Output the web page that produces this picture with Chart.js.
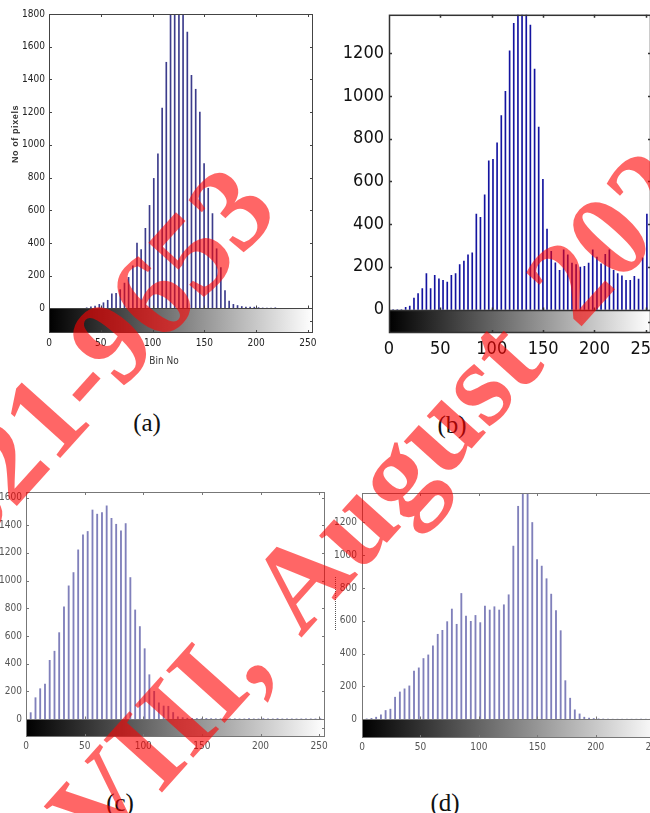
<!DOCTYPE html>
<html>
<head>
<meta charset="utf-8">
<script src="https://cdn.jsdelivr.net/npm/chart.js@4.4.1/dist/chart.umd.min.js"></script>
<style>
    html, body { margin: 0; padding: 0; background: #fff; }
    #page { position: relative; width: 650px; height: 813px; overflow: hidden; background: #fff; }
    #page canvas { position: absolute; }
    .cap { position: absolute; width: 60px; text-align: center; font: 25px "Liberation Serif", "Times New Roman", serif; color: #111; line-height: 26px; z-index: 2; }
    .lbl { position: absolute; text-align: center; color: #333; z-index: 2; white-space: nowrap; }
    .wm { position: absolute; transform-origin: 0 0; transform: rotate(-48deg); font: bold 120px "Liberation Serif", "Times New Roman", serif; color: rgba(255, 0, 0, 0.6); line-height: 1; white-space: nowrap; pointer-events: none; z-index: 5; }
</style>
</head>
<body>
<div id="page">
    <div class="lbl" style="left:-25px; top:129px; width:80px; font:bold 9px 'Liberation Sans', Arial, sans-serif; letter-spacing:0.6px; transform:rotate(-90deg);">No of pixels</div>
    <div class="lbl" style="left:139px; top:355px; width:50px; font:10px 'Liberation Sans Narrow', 'DejaVu Sans Condensed', sans-serif;">Bin No</div>
    <div style="position:absolute; left:335px; top:577px; height:53px; border-left:1px dotted #555;"></div>
    <div class="cap" style="left:117px; top:410px;">(a)</div>
    <div class="cap" style="left:422px; top:412px;">(b)</div>
    <div class="cap" style="left:90px; top:790px;">(c)</div>
    <div class="cap" style="left:415px; top:790px;">(d)</div>
    <div class="wm" style="left:-141px; top:532px;">2321-9653</div>
    <div class="wm" style="left:27px; top:793px; word-spacing:0.15em;">VIII, August 2020</div>
</div>
<script>
// bin centres of a 64-bin histogram on 0..255
const binCenters = [0, 4, 8.1, 12.1, 16.2, 20.2, 24.3, 28.3, 32.4, 36.4, 40.5, 44.5, 48.6, 52.6, 56.7, 60.7,
    64.8, 68.8, 72.9, 76.9, 81, 85, 89, 93.1, 97.1, 101.2, 105.2, 109.3, 113.3, 117.4, 121.4, 125.5,
    129.5, 133.6, 137.6, 141.7, 145.7, 149.8, 153.8, 157.9, 161.9, 166, 170, 174, 178.1, 182.1, 186.2, 190.2,
    194.3, 198.3, 202.4, 206.4, 210.5, 214.5, 218.6, 222.6, 226.7, 230.7, 234.8, 238.8, 242.9, 246.9, 251, 255];

const histA = [0, 0, 0, 0, 0, 0, 0, 0, 0, 4, 10, 15, 25, 35, 50, 90, 92, 115, 155, 190,
    260, 400, 360, 490, 630, 795, 945, 1225, 1505, 1950, 2150, 2200, 2050, 1690, 1425, 1340, 1200, 885, 735, 580,
    365, 250, 110, 45, 25, 18, 12, 8, 8, 8, 5, 3, 3, 2, 4, 0, 0, 0, 0, 0, 0, 0, 0, 0];
const histB = [0, 0, 0, 0, 10, 16, 54, 75, 98, 168, 98, 160, 144, 137, 129, 160, 168, 210, 227, 256,
    265, 447, 432, 537, 696, 703, 781, 908, 1022, 1211, 1340, 1480, 1550, 1500, 1332, 1126, 854, 610, 377, 273,
    219, 183, 280, 256, 217, 210, 199, 202, 217, 280, 245, 214, 258, 280, 183, 168, 158, 137, 137, 155, 143, 242, 447, 300];
const histC = [0, 46, 154, 219, 253, 424, 490, 624, 810, 962, 1058, 1222, 1330, 1355, 1510, 1480, 1492, 1540, 1450, 1407,
    1360, 1412, 1022, 788, 668, 508, 320, 200, 117, 94, 92, 47, 16, 10, 6, 5, 4, 3, 4, 3,
    2, 2, 1, 1, 2, 1, 1, 3, 1, 1, 3, 1, 1, 3, 1, 1, 1, 1, 1, 1, 1, 1, 3, 0];
const histD = [0, 2, 5, 12, 26, 53, 61, 134, 166, 185, 203, 294, 313, 370, 392, 447, 518, 542, 595, 672,
    579, 767, 629, 597, 633, 589, 690, 666, 686, 666, 698, 759, 1056, 1299, 1500, 1480, 1200, 974, 934, 857,
    763, 662, 540, 235, 128, 57, 32, 12, 6, 4, 2, 1, 1, 0, 0, 0, 0, 0, 0, 0, 0, 0, 0, 0];

const binTicks = [0, 50, 100, 150, 200, 250];
const yTicksA = [0, 200, 400, 600, 800, 1000, 1200, 1400, 1600, 1800];
const yTicksB = [0, 200, 400, 600, 800, 1000, 1200];
const yTicksC = [0, 200, 400, 600, 800, 1000, 1200, 1400, 1600];
const yTicksD = [0, 200, 400, 600, 800, 1000, 1200];

const narrow = "'Liberation Sans Narrow', 'DejaVu Sans Condensed', Arial, sans-serif";

// grey colour bar under zero, box frame and inward ticks like imhist
const matlabAxes = {
    id: 'matlabAxes',
    beforeDatasetsDraw(chart) {
        const {ctx, chartArea: a, scales: {x, y}} = chart;
        const y0 = Math.round(y.getPixelForValue(0));
        const g = ctx.createLinearGradient(x.getPixelForValue(0), 0, x.getPixelForValue(255), 0);
        g.addColorStop(0, '#000');
        g.addColorStop(1, '#fff');
        ctx.save();
        ctx.fillStyle = g;
        ctx.fillRect(a.left, y0, a.right - a.left, a.bottom - y0);
        ctx.restore();
    },
    afterDatasetsDraw(chart, args, opt) {
        const {ctx, chartArea: a, scales: {x, y}} = chart;
        const y0 = Math.round(y.getPixelForValue(0)) + 0.5;
        const t = opt.tick;
        ctx.save();
        ctx.strokeStyle = opt.color;
        ctx.lineWidth = opt.width;
        ctx.strokeRect(a.left + 0.5, a.top + 0.5, a.right - a.left - 1, a.bottom - a.top - 1);
        ctx.beginPath();
        ctx.moveTo(a.left, y0);
        ctx.lineTo(a.right, y0);
        x.ticks.forEach(function (tk) {
            let px = Math.round(x.getPixelForValue(tk.value)) + 0.5;
            if (px <= a.left + 1 || px >= a.right - 1) return;
            ctx.moveTo(px, a.top); ctx.lineTo(px, a.top + t);
            ctx.moveTo(px, y0); ctx.lineTo(px, y0 - t);
            ctx.moveTo(px, a.bottom); ctx.lineTo(px, a.bottom - t);
        });
        y.ticks.forEach(function (tk) {
            if (tk.value <= 0) return;
            let py = Math.round(y.getPixelForValue(tk.value)) + 0.5;
            ctx.moveTo(a.left, py); ctx.lineTo(a.left + t, py);
            ctx.moveTo(a.right, py); ctx.lineTo(a.right - t, py);
        });
        let pm = Math.round((y0 + a.bottom) / 2) + 0.5;
        ctx.moveTo(a.right, pm); ctx.lineTo(a.right - t, pm);
        ctx.stroke();
        ctx.restore();
    }
};

const panels = [
    {values: histA, yTicks: yTicksA, left: 49, top: 14, right: 313, bottom: 333, yMin: -150, yMax: 1800,
        bar: '#3c3c8c', barW: 1, frame: '#444', fw: 1, font: 10, tickColor: '#222', xPad: 4, yPad: 4},
    {values: histB, yTicks: yTicksB, left: 389, top: 13, right: 651, bottom: 333, yMin: -110, yMax: 1380,
        bar: '#1414a0', barW: 1, frame: '#333', fw: 1.5, font: 18, tickColor: '#111', xPad: 6, yPad: 5},
    {values: histC, yTicks: yTicksC, left: 26, top: 492, right: 325, bottom: 737, yMin: -130, yMax: 1640,
        bar: '#8080bb', barW: 1.2, frame: '#777', fw: 1, font: 10, tickColor: '#555', xPad: 3, yPad: 4},
    {values: histD, yTicks: yTicksD, left: 362, top: 493, right: 660, bottom: 738, yMin: -115, yMax: 1380,
        bar: '#8080bb', barW: 1.2, frame: '#777', fw: 1, font: 10, tickColor: '#555', xPad: 3, yPad: 5}
];

function drawPanel(p) {
    // padding must exceed half a tick label so that the plot box stays where it is put
    const yW = 50, xH = 30, padT = 14, padR = 18;
    const w = p.right - p.left + yW + padR;
    const h = p.bottom - p.top + padT + xH;
    const cv = document.createElement('canvas');
    cv.width = w;
    cv.height = h;
    cv.style.left = (p.left - yW) + 'px';
    cv.style.top = (p.top - padT) + 'px';
    cv.style.width = w + 'px';
    cv.style.height = h + 'px';
    document.getElementById('page').appendChild(cv);

    new Chart(cv, {
        type: 'bar',
        data: {
            datasets: [{
                data: binCenters.map(function (b, i) { return {x: b, y: p.values[i]}; }),
                backgroundColor: p.bar,
                borderWidth: 0,
                barThickness: p.barW
            }]
        },
        options: {
            responsive: false,
            animation: false,
            devicePixelRatio: 1,
            layout: {autoPadding: false, padding: {top: padT, right: padR, left: 0, bottom: 0}},
            plugins: {
                legend: {display: false},
                tooltip: {enabled: false},
                matlabAxes: {color: p.frame, width: p.fw, tick: 3}
            },
            scales: {
                x: {
                    type: 'linear',
                    offset: false,
                    min: 0,
                    max: 255,
                    grid: {display: false, drawTicks: false, offset: false},
                    border: {display: false},
                    afterBuildTicks: function (s) { s.ticks = binTicks.map(function (v) { return {value: v}; }); },
                    afterFit: function (s) { s.height = xH; },
                    ticks: {font: {family: narrow, size: p.font}, color: p.tickColor, padding: p.xPad,
                        maxRotation: 0, autoSkip: false, callback: function (v) { return String(v); }}
                },
                y: {
                    type: 'linear',
                    min: p.yMin,
                    max: p.yMax,
                    grid: {display: false, drawTicks: false},
                    border: {display: false},
                    afterBuildTicks: function (s) { s.ticks = p.yTicks.map(function (v) { return {value: v}; }); },
                    afterFit: function (s) { s.width = yW; },
                    ticks: {font: {family: narrow, size: p.font}, color: p.tickColor, padding: p.yPad,
                        autoSkip: false, callback: function (v) { return String(v); }}
                }
            }
        },
        plugins: [matlabAxes]
    });
}

panels.forEach(drawPanel);
</script>
</body>
</html>
